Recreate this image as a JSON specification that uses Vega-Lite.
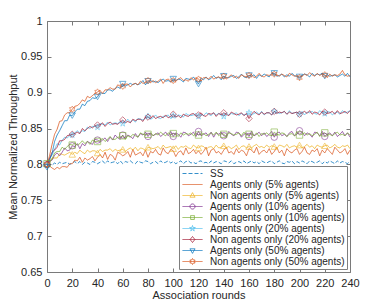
{
"$schema":"https://vega.github.io/schema/vega-lite/v6.json",
"width":303,"height":251,
"autosize":{"type":"none"},
"padding":{"left":47,"top":21,"right":16,"bottom":35},
"background":"white",
"data":{"values":[
{"x":0,"ss":0.800,"a5":0.800,"n5":0.801,"a10":0.800,"n10":0.801,"a20":0.799,"n20":0.800,"a50":0.796,"n50":0.800},
{"x":2,"ss":0.799,"a5":0.798,"n5":0.803,"a10":0.804,"n10":0.805,"a20":0.809,"n20":0.808,"a50":0.806,"n50":0.812},
{"x":4,"ss":0.799,"a5":0.795,"n5":0.809,"a10":0.806,"n10":0.807,"a20":0.813,"n20":0.817,"a50":0.815,"n50":0.828},
{"x":6,"ss":0.802,"a5":0.793,"n5":0.809,"a10":0.813,"n10":0.816,"a20":0.821,"n20":0.820,"a50":0.832,"n50":0.842},
{"x":8,"ss":0.800,"a5":0.796,"n5":0.809,"a10":0.816,"n10":0.818,"a20":0.829,"n20":0.824,"a50":0.841,"n50":0.849},
{"x":10,"ss":0.803,"a5":0.794,"n5":0.815,"a10":0.812,"n10":0.818,"a20":0.827,"n20":0.833,"a50":0.847,"n50":0.860},
{"x":12,"ss":0.801,"a5":0.797,"n5":0.814,"a10":0.817,"n10":0.824,"a20":0.834,"n20":0.833,"a50":0.854,"n50":0.861},
{"x":14,"ss":0.802,"a5":0.797,"n5":0.813,"a10":0.823,"n10":0.821,"a20":0.838,"n20":0.835,"a50":0.861,"n50":0.869},
{"x":16,"ss":0.803,"a5":0.796,"n5":0.815,"a10":0.819,"n10":0.825,"a20":0.837,"n20":0.840,"a50":0.861,"n50":0.872},
{"x":18,"ss":0.800,"a5":0.801,"n5":0.817,"a10":0.820,"n10":0.828,"a20":0.840,"n20":0.841,"a50":0.869,"n50":0.872},
{"x":20,"ss":0.802,"a5":0.801,"n5":0.814,"a10":0.826,"n10":0.827,"a20":0.841,"n20":0.842,"a50":0.868,"n50":0.877},
{"x":22,"ss":0.804,"a5":0.806,"n5":0.817,"a10":0.825,"n10":0.830,"a20":0.844,"n20":0.843,"a50":0.873,"n50":0.881},
{"x":24,"ss":0.801,"a5":0.805,"n5":0.815,"a10":0.829,"n10":0.827,"a20":0.847,"n20":0.845,"a50":0.877,"n50":0.882},
{"x":26,"ss":0.804,"a5":0.810,"n5":0.820,"a10":0.822,"n10":0.829,"a20":0.844,"n20":0.843,"a50":0.877,"n50":0.885},
{"x":28,"ss":0.800,"a5":0.803,"n5":0.817,"a10":0.829,"n10":0.833,"a20":0.847,"n20":0.850,"a50":0.884,"n50":0.890},
{"x":30,"ss":0.803,"a5":0.809,"n5":0.815,"a10":0.826,"n10":0.829,"a20":0.846,"n20":0.847,"a50":0.882,"n50":0.888},
{"x":32,"ss":0.802,"a5":0.806,"n5":0.820,"a10":0.832,"n10":0.832,"a20":0.852,"n20":0.850,"a50":0.888,"n50":0.895},
{"x":34,"ss":0.800,"a5":0.808,"n5":0.817,"a10":0.830,"n10":0.828,"a20":0.850,"n20":0.853,"a50":0.889,"n50":0.893},
{"x":36,"ss":0.804,"a5":0.811,"n5":0.819,"a10":0.828,"n10":0.834,"a20":0.853,"n20":0.851,"a50":0.893,"n50":0.896},
{"x":38,"ss":0.803,"a5":0.805,"n5":0.819,"a10":0.835,"n10":0.832,"a20":0.853,"n20":0.854,"a50":0.892,"n50":0.899},
{"x":40,"ss":0.801,"a5":0.810,"n5":0.816,"a10":0.834,"n10":0.832,"a20":0.852,"n20":0.855,"a50":0.894,"n50":0.901},
{"x":42,"ss":0.803,"a5":0.814,"n5":0.821,"a10":0.831,"n10":0.834,"a20":0.857,"n20":0.855,"a50":0.900,"n50":0.903},
{"x":44,"ss":0.805,"a5":0.809,"n5":0.818,"a10":0.834,"n10":0.836,"a20":0.856,"n20":0.858,"a50":0.899,"n50":0.899},
{"x":46,"ss":0.801,"a5":0.817,"n5":0.820,"a10":0.837,"n10":0.832,"a20":0.855,"n20":0.853,"a50":0.899,"n50":0.904},
{"x":48,"ss":0.805,"a5":0.807,"n5":0.820,"a10":0.832,"n10":0.835,"a20":0.859,"n20":0.857,"a50":0.904,"n50":0.904},
{"x":50,"ss":0.802,"a5":0.814,"n5":0.822,"a10":0.838,"n10":0.839,"a20":0.855,"n20":0.859,"a50":0.904,"n50":0.907},
{"x":52,"ss":0.803,"a5":0.812,"n5":0.818,"a10":0.834,"n10":0.835,"a20":0.857,"n20":0.856,"a50":0.902,"n50":0.905},
{"x":54,"ss":0.804,"a5":0.806,"n5":0.821,"a10":0.841,"n10":0.835,"a20":0.858,"n20":0.857,"a50":0.906,"n50":0.905},
{"x":56,"ss":0.801,"a5":0.817,"n5":0.819,"a10":0.837,"n10":0.838,"a20":0.857,"n20":0.856,"a50":0.908,"n50":0.911},
{"x":58,"ss":0.805,"a5":0.815,"n5":0.820,"a10":0.835,"n10":0.838,"a20":0.860,"n20":0.859,"a50":0.906,"n50":0.909},
{"x":60,"ss":0.801,"a5":0.812,"n5":0.821,"a10":0.841,"n10":0.840,"a20":0.857,"n20":0.862,"a50":0.912,"n50":0.909},
{"x":62,"ss":0.804,"a5":0.814,"n5":0.818,"a10":0.836,"n10":0.835,"a20":0.859,"n20":0.858,"a50":0.909,"n50":0.912},
{"x":64,"ss":0.803,"a5":0.818,"n5":0.821,"a10":0.841,"n10":0.840,"a20":0.863,"n20":0.860,"a50":0.911,"n50":0.912},
{"x":66,"ss":0.805,"a5":0.810,"n5":0.823,"a10":0.839,"n10":0.838,"a20":0.859,"n20":0.858,"a50":0.913,"n50":0.908},
{"x":68,"ss":0.802,"a5":0.821,"n5":0.820,"a10":0.836,"n10":0.842,"a20":0.862,"n20":0.863,"a50":0.911,"n50":0.912},
{"x":70,"ss":0.801,"a5":0.813,"n5":0.824,"a10":0.843,"n10":0.840,"a20":0.859,"n20":0.861,"a50":0.913,"n50":0.913},
{"x":72,"ss":0.805,"a5":0.815,"n5":0.819,"a10":0.838,"n10":0.838,"a20":0.864,"n20":0.863,"a50":0.911,"n50":0.911},
{"x":74,"ss":0.803,"a5":0.817,"n5":0.823,"a10":0.843,"n10":0.844,"a20":0.863,"n20":0.863,"a50":0.913,"n50":0.916},
{"x":76,"ss":0.802,"a5":0.812,"n5":0.822,"a10":0.841,"n10":0.842,"a20":0.862,"n20":0.860,"a50":0.917,"n50":0.913},
{"x":78,"ss":0.805,"a5":0.820,"n5":0.819,"a10":0.845,"n10":0.841,"a20":0.865,"n20":0.866,"a50":0.911,"n50":0.914},
{"x":80,"ss":0.804,"a5":0.810,"n5":0.824,"a10":0.839,"n10":0.842,"a20":0.867,"n20":0.866,"a50":0.916,"n50":0.917},
{"x":82,"ss":0.801,"a5":0.818,"n5":0.823,"a10":0.844,"n10":0.844,"a20":0.863,"n20":0.864,"a50":0.917,"n50":0.914},
{"x":84,"ss":0.803,"a5":0.816,"n5":0.822,"a10":0.840,"n10":0.840,"a20":0.865,"n20":0.868,"a50":0.915,"n50":0.917},
{"x":86,"ss":0.804,"a5":0.821,"n5":0.823,"a10":0.842,"n10":0.843,"a20":0.869,"n20":0.864,"a50":0.916,"n50":0.914},
{"x":88,"ss":0.801,"a5":0.815,"n5":0.825,"a10":0.844,"n10":0.841,"a20":0.865,"n20":0.866,"a50":0.914,"n50":0.916},
{"x":90,"ss":0.805,"a5":0.813,"n5":0.821,"a10":0.839,"n10":0.845,"a20":0.864,"n20":0.867,"a50":0.917,"n50":0.919},
{"x":92,"ss":0.802,"a5":0.823,"n5":0.827,"a10":0.842,"n10":0.842,"a20":0.867,"n20":0.865,"a50":0.919,"n50":0.913},
{"x":94,"ss":0.803,"a5":0.817,"n5":0.823,"a10":0.845,"n10":0.840,"a20":0.867,"n20":0.869,"a50":0.916,"n50":0.918},
{"x":96,"ss":0.805,"a5":0.815,"n5":0.824,"a10":0.840,"n10":0.844,"a20":0.869,"n20":0.865,"a50":0.917,"n50":0.919},
{"x":98,"ss":0.802,"a5":0.821,"n5":0.825,"a10":0.846,"n10":0.841,"a20":0.864,"n20":0.867,"a50":0.915,"n50":0.916},
{"x":100,"ss":0.804,"a5":0.819,"n5":0.822,"a10":0.839,"n10":0.843,"a20":0.868,"n20":0.870,"a50":0.919,"n50":0.917},
{"x":102,"ss":0.801,"a5":0.811,"n5":0.826,"a10":0.844,"n10":0.842,"a20":0.866,"n20":0.866,"a50":0.917,"n50":0.916},
{"x":104,"ss":0.803,"a5":0.817,"n5":0.821,"a10":0.842,"n10":0.839,"a20":0.869,"n20":0.868,"a50":0.919,"n50":0.919},
{"x":106,"ss":0.805,"a5":0.819,"n5":0.825,"a10":0.838,"n10":0.844,"a20":0.868,"n20":0.865,"a50":0.918,"n50":0.921},
{"x":108,"ss":0.801,"a5":0.813,"n5":0.824,"a10":0.845,"n10":0.841,"a20":0.866,"n20":0.870,"a50":0.915,"n50":0.917},
{"x":110,"ss":0.804,"a5":0.823,"n5":0.826,"a10":0.844,"n10":0.843,"a20":0.871,"n20":0.868,"a50":0.920,"n50":0.918},
{"x":112,"ss":0.805,"a5":0.815,"n5":0.823,"a10":0.840,"n10":0.842,"a20":0.869,"n20":0.867,"a50":0.919,"n50":0.916},
{"x":114,"ss":0.802,"a5":0.817,"n5":0.822,"a10":0.842,"n10":0.844,"a20":0.868,"n20":0.870,"a50":0.918,"n50":0.921},
{"x":116,"ss":0.803,"a5":0.821,"n5":0.827,"a10":0.845,"n10":0.840,"a20":0.869,"n20":0.871,"a50":0.922,"n50":0.918},
{"x":118,"ss":0.801,"a5":0.815,"n5":0.824,"a10":0.839,"n10":0.843,"a20":0.871,"n20":0.867,"a50":0.917,"n50":0.920},
{"x":120,"ss":0.804,"a5":0.819,"n5":0.823,"a10":0.846,"n10":0.841,"a20":0.867,"n20":0.869,"a50":0.912,"n50":0.919},
{"x":122,"ss":0.805,"a5":0.814,"n5":0.826,"a10":0.840,"n10":0.842,"a20":0.870,"n20":0.872,"a50":0.920,"n50":0.916},
{"x":124,"ss":0.802,"a5":0.818,"n5":0.825,"a10":0.842,"n10":0.843,"a20":0.868,"n20":0.868,"a50":0.918,"n50":0.921},
{"x":126,"ss":0.803,"a5":0.824,"n5":0.821,"a10":0.844,"n10":0.840,"a20":0.872,"n20":0.867,"a50":0.922,"n50":0.921},
{"x":128,"ss":0.801,"a5":0.812,"n5":0.824,"a10":0.839,"n10":0.842,"a20":0.870,"n20":0.871,"a50":0.918,"n50":0.919},
{"x":130,"ss":0.805,"a5":0.820,"n5":0.825,"a10":0.845,"n10":0.844,"a20":0.868,"n20":0.870,"a50":0.920,"n50":0.923},
{"x":132,"ss":0.802,"a5":0.822,"n5":0.822,"a10":0.838,"n10":0.841,"a20":0.872,"n20":0.872,"a50":0.924,"n50":0.919},
{"x":134,"ss":0.804,"a5":0.816,"n5":0.827,"a10":0.844,"n10":0.845,"a20":0.869,"n20":0.867,"a50":0.920,"n50":0.921},
{"x":136,"ss":0.803,"a5":0.818,"n5":0.823,"a10":0.842,"n10":0.840,"a20":0.871,"n20":0.871,"a50":0.922,"n50":0.922},
{"x":138,"ss":0.801,"a5":0.814,"n5":0.824,"a10":0.845,"n10":0.843,"a20":0.870,"n20":0.869,"a50":0.918,"n50":0.920},
{"x":140,"ss":0.805,"a5":0.820,"n5":0.826,"a10":0.840,"n10":0.842,"a20":0.867,"n20":0.872,"a50":0.923,"n50":0.923},
{"x":142,"ss":0.804,"a5":0.824,"n5":0.823,"a10":0.839,"n10":0.839,"a20":0.872,"n20":0.870,"a50":0.921,"n50":0.919},
{"x":144,"ss":0.802,"a5":0.816,"n5":0.825,"a10":0.846,"n10":0.844,"a20":0.869,"n20":0.868,"a50":0.921,"n50":0.922},
{"x":146,"ss":0.805,"a5":0.818,"n5":0.822,"a10":0.842,"n10":0.843,"a20":0.871,"n20":0.873,"a50":0.923,"n50":0.925},
{"x":148,"ss":0.801,"a5":0.814,"n5":0.824,"a10":0.840,"n10":0.841,"a20":0.870,"n20":0.871,"a50":0.924,"n50":0.921},
{"x":150,"ss":0.803,"a5":0.822,"n5":0.827,"a10":0.845,"n10":0.842,"a20":0.872,"n20":0.869,"a50":0.920,"n50":0.923},
{"x":152,"ss":0.804,"a5":0.816,"n5":0.821,"a10":0.844,"n10":0.844,"a20":0.868,"n20":0.870,"a50":0.922,"n50":0.920},
{"x":154,"ss":0.802,"a5":0.820,"n5":0.825,"a10":0.838,"n10":0.840,"a20":0.871,"n20":0.872,"a50":0.926,"n50":0.925},
{"x":156,"ss":0.805,"a5":0.818,"n5":0.826,"a10":0.842,"n10":0.845,"a20":0.869,"n20":0.868,"a50":0.922,"n50":0.923},
{"x":158,"ss":0.801,"a5":0.812,"n5":0.823,"a10":0.844,"n10":0.841,"a20":0.870,"n20":0.871,"a50":0.921,"n50":0.922},
{"x":160,"ss":0.803,"a5":0.822,"n5":0.825,"a10":0.839,"n10":0.842,"a20":0.872,"n20":0.864,"a50":0.924,"n50":0.924},
{"x":162,"ss":0.805,"a5":0.820,"n5":0.823,"a10":0.846,"n10":0.843,"a20":0.869,"n20":0.870,"a50":0.923,"n50":0.925},
{"x":164,"ss":0.802,"a5":0.816,"n5":0.826,"a10":0.840,"n10":0.840,"a20":0.871,"n20":0.874,"a50":0.925,"n50":0.921},
{"x":166,"ss":0.804,"a5":0.824,"n5":0.828,"a10":0.842,"n10":0.844,"a20":0.873,"n20":0.871,"a50":0.920,"n50":0.923},
{"x":168,"ss":0.801,"a5":0.814,"n5":0.824,"a10":0.845,"n10":0.839,"a20":0.870,"n20":0.869,"a50":0.925,"n50":0.927},
{"x":170,"ss":0.805,"a5":0.818,"n5":0.825,"a10":0.840,"n10":0.843,"a20":0.874,"n20":0.873,"a50":0.923,"n50":0.923},
{"x":172,"ss":0.803,"a5":0.820,"n5":0.823,"a10":0.844,"n10":0.842,"a20":0.869,"n20":0.870,"a50":0.926,"n50":0.922},
{"x":174,"ss":0.802,"a5":0.816,"n5":0.827,"a10":0.839,"n10":0.844,"a20":0.872,"n20":0.872,"a50":0.924,"n50":0.925},
{"x":176,"ss":0.804,"a5":0.822,"n5":0.824,"a10":0.842,"n10":0.841,"a20":0.872,"n20":0.872,"a50":0.922,"n50":0.924},
{"x":178,"ss":0.805,"a5":0.814,"n5":0.826,"a10":0.846,"n10":0.840,"a20":0.869,"n20":0.869,"a50":0.927,"n50":0.926},
{"x":180,"ss":0.801,"a5":0.818,"n5":0.825,"a10":0.838,"n10":0.845,"a20":0.874,"n20":0.874,"a50":0.927,"n50":0.926},
{"x":182,"ss":0.803,"a5":0.824,"n5":0.822,"a10":0.844,"n10":0.842,"a20":0.873,"n20":0.871,"a50":0.923,"n50":0.925},
{"x":184,"ss":0.805,"a5":0.816,"n5":0.827,"a10":0.845,"n10":0.841,"a20":0.871,"n20":0.873,"a50":0.924,"n50":0.923},
{"x":186,"ss":0.802,"a5":0.820,"n5":0.826,"a10":0.840,"n10":0.844,"a20":0.872,"n20":0.872,"a50":0.926,"n50":0.926},
{"x":188,"ss":0.801,"a5":0.812,"n5":0.824,"a10":0.842,"n10":0.843,"a20":0.874,"n20":0.874,"a50":0.922,"n50":0.924},
{"x":190,"ss":0.804,"a5":0.822,"n5":0.828,"a10":0.839,"n10":0.839,"a20":0.870,"n20":0.870,"a50":0.925,"n50":0.922},
{"x":192,"ss":0.803,"a5":0.818,"n5":0.823,"a10":0.844,"n10":0.842,"a20":0.875,"n20":0.873,"a50":0.923,"n50":0.927},
{"x":194,"ss":0.805,"a5":0.816,"n5":0.825,"a10":0.846,"n10":0.843,"a20":0.871,"n20":0.871,"a50":0.927,"n50":0.925},
{"x":196,"ss":0.801,"a5":0.820,"n5":0.826,"a10":0.840,"n10":0.840,"a20":0.872,"n20":0.872,"a50":0.924,"n50":0.923},
{"x":198,"ss":0.804,"a5":0.822,"n5":0.824,"a10":0.842,"n10":0.845,"a20":0.873,"n20":0.873,"a50":0.922,"n50":0.924},
{"x":200,"ss":0.802,"a5":0.814,"n5":0.827,"a10":0.847,"n10":0.841,"a20":0.870,"n20":0.870,"a50":0.922,"n50":0.921},
{"x":202,"ss":0.805,"a5":0.818,"n5":0.823,"a10":0.845,"n10":0.842,"a20":0.874,"n20":0.872,"a50":0.924,"n50":0.923},
{"x":204,"ss":0.803,"a5":0.824,"n5":0.825,"a10":0.840,"n10":0.844,"a20":0.869,"n20":0.874,"a50":0.926,"n50":0.926},
{"x":206,"ss":0.801,"a5":0.816,"n5":0.828,"a10":0.844,"n10":0.841,"a20":0.873,"n20":0.871,"a50":0.925,"n50":0.924},
{"x":208,"ss":0.805,"a5":0.814,"n5":0.824,"a10":0.842,"n10":0.843,"a20":0.872,"n20":0.875,"a50":0.922,"n50":0.928},
{"x":210,"ss":0.804,"a5":0.820,"n5":0.826,"a10":0.838,"n10":0.840,"a20":0.874,"n20":0.870,"a50":0.927,"n50":0.925},
{"x":212,"ss":0.802,"a5":0.818,"n5":0.822,"a10":0.845,"n10":0.842,"a20":0.871,"n20":0.873,"a50":0.924,"n50":0.923},
{"x":214,"ss":0.803,"a5":0.822,"n5":0.827,"a10":0.844,"n10":0.845,"a20":0.870,"n20":0.872,"a50":0.926,"n50":0.927},
{"x":216,"ss":0.805,"a5":0.812,"n5":0.825,"a10":0.840,"n10":0.839,"a20":0.875,"n20":0.869,"a50":0.925,"n50":0.924},
{"x":218,"ss":0.801,"a5":0.820,"n5":0.824,"a10":0.846,"n10":0.843,"a20":0.872,"n20":0.874,"a50":0.927,"n50":0.926},
{"x":220,"ss":0.804,"a5":0.816,"n5":0.826,"a10":0.839,"n10":0.844,"a20":0.871,"n20":0.873,"a50":0.923,"n50":0.925},
{"x":222,"ss":0.802,"a5":0.822,"n5":0.827,"a10":0.842,"n10":0.841,"a20":0.874,"n20":0.871,"a50":0.925,"n50":0.921},
{"x":224,"ss":0.805,"a5":0.818,"n5":0.823,"a10":0.844,"n10":0.842,"a20":0.873,"n20":0.872,"a50":0.923,"n50":0.926},
{"x":226,"ss":0.803,"a5":0.814,"n5":0.825,"a10":0.840,"n10":0.840,"a20":0.869,"n20":0.874,"a50":0.924,"n50":0.923},
{"x":228,"ss":0.801,"a5":0.824,"n5":0.828,"a10":0.845,"n10":0.843,"a20":0.872,"n20":0.870,"a50":0.925,"n50":0.925},
{"x":230,"ss":0.805,"a5":0.820,"n5":0.824,"a10":0.839,"n10":0.845,"a20":0.873,"n20":0.875,"a50":0.922,"n50":0.924},
{"x":232,"ss":0.802,"a5":0.816,"n5":0.823,"a10":0.842,"n10":0.841,"a20":0.870,"n20":0.871,"a50":0.924,"n50":0.926},
{"x":234,"ss":0.804,"a5":0.818,"n5":0.826,"a10":0.846,"n10":0.842,"a20":0.875,"n20":0.872,"a50":0.926,"n50":0.931},
{"x":236,"ss":0.803,"a5":0.822,"n5":0.825,"a10":0.840,"n10":0.840,"a20":0.872,"n20":0.874,"a50":0.923,"n50":0.925},
{"x":238,"ss":0.801,"a5":0.814,"n5":0.827,"a10":0.844,"n10":0.844,"a20":0.873,"n20":0.871,"a50":0.927,"n50":0.923},
{"x":240,"ss":0.805,"a5":0.820,"n5":0.822,"a10":0.838,"n10":0.841,"a20":0.875,"n20":0.875,"a50":0.922,"n50":0.924}
]},
"transform":[{"fold":["ss","a5","n5","a10","n10","a20","n20","a50","n50"],"as":["series","y"]}],
"layer":[
{"mark":{"type":"line","strokeWidth":0.8},
 "encoding":{
  "x":{"field":"x","type":"quantitative","scale":{"domain":[0,240],"nice":false},"axis":{"title":"Association rounds","values":[0,20,40,60,80,100,120,140,160,180,200,220,240],"format":"d","titlePadding":1}},
  "y":{"field":"y","type":"quantitative","scale":{"domain":[0.65,1],"nice":false,"zero":false},"axis":{"title":"Mean Normalized Throughput","values":[0.65,0.7,0.75,0.8,0.85,0.9,0.95,1],"format":"~g","titlePadding":2}},
  "color":{"field":"series","type":"nominal","scale":{"domain":["ss","a5","n5","a10","n10","a20","n20","a50","n50"],"range":["#0072BD","#D95319","#EDB120","#7E2F8E","#77AC30","#4DBEEE","#A2142F","#0072BD","#D95319"]},
   "legend":{"title":null,"orient":"bottom-right","offset":3,"padding":2,"strokeColor":"#7f7f7f","fillColor":"#ffffff","labelFont":"Liberation Sans","labelFontSize":10,"labelColor":"#262626","labelLimit":250,"symbolSize":100,"symbolOffset":6,"labelOffset":12,"rowPadding":0,"symbolStrokeWidth":0.8,
    "labelExpr":"{'ss':'SS','a5':'Agents only (5% agents)','n5':'Non agents only (5% agents)','a10':'Agents only (10% agents)','n10':'Non agents only (10% agents)','a20':'Agents only (20% agents)','n20':'Non agents only (20% agents)','a50':'Agents only (50% agents)','n50':'Non agents only (50% agents)'}[datum.value]",
    "encode":{"symbols":{"update":{
      "shape":{"signal":"{'ss':'M-2,0L2,0','a5':'M-2,0L2,0','n5':'M-2,0L2,0M0,-0.57L0.51,0.34L-0.51,0.34Z','a10':'M-2,0L2,0M0.51,0A0.51,0.51,0,1,1,-0.51,0A0.51,0.51,0,1,1,0.51,0Z','n10':'M-2,0L2,0M-0.38,-0.38L0.38,-0.38L0.38,0.38L-0.38,0.38Z','a20':'M-2,0L2,0M0,-0.6L0.135,-0.185L0.57,-0.185L0.218,0.07L0.352,0.485L0,0.229L-0.352,0.485L-0.218,0.07L-0.57,-0.185L-0.135,-0.185Z','n20':'M-2,0L2,0M0,-0.6L0.48,0L0,0.6L-0.48,0Z','a50':'M-2,0L2,0M0,0.57L0.51,-0.34L-0.51,-0.34Z','n50':'M-2,0L2,0M0,-0.6L0.173,-0.3L0.519,-0.3L0.347,0L0.519,0.3L0.173,0.3L0,0.6L-0.173,0.3L-0.519,0.3L-0.347,0L-0.519,-0.3L-0.173,-0.3Z'}[datum.value]"},
      "fill":{"value":"transparent"},
      "stroke":{"scale":"color","field":"value"},
      "strokeDash":{"signal":"datum.value === 'ss' ? [4,2] : [1,0]"}
    }}}
   }},
  "strokeDash":{"field":"series","type":"nominal","scale":{"domain":["ss","a5","n5","a10","n10","a20","n20","a50","n50"],"range":[[4,2],[1,0],[1,0],[1,0],[1,0],[1,0],[1,0],[1,0],[1,0]]},"legend":null}
 }},
{"transform":[{"filter":"datum.x % 20 === 0 && datum.x <= 220 && datum.series !== 'ss' && datum.series !== 'a5'"}],
 "mark":{"type":"point","filled":false,"strokeWidth":0.8},
 "encoding":{
  "x":{"field":"x","type":"quantitative","axis":{"orient":"top","labels":false,"title":null,"values":[0,20,40,60,80,100,120,140,160,180,200,220,240]}},
  "y":{"field":"y","type":"quantitative","axis":{"orient":"right","labels":false,"title":null,"values":[0.65,0.7,0.75,0.8,0.85,0.9,0.95,1]}},
  "color":{"field":"series","type":"nominal"},
  "shape":{"field":"series","type":"nominal","scale":{"domain":["n5","a10","n10","a20","n20","a50","n50"],"range":["triangle-up","circle","square","M0,-1L0.225,-0.309L0.951,-0.309L0.363,0.118L0.588,0.809L0,0.382L-0.588,0.809L-0.363,0.118L-0.951,-0.309L-0.225,-0.309Z","diamond","triangle-down","M0,-1L0.289,-0.5L0.866,-0.5L0.577,0L0.866,0.5L0.289,0.5L0,1L-0.289,0.5L-0.866,0.5L-0.577,0L-0.866,-0.5L-0.289,-0.5Z"]},"legend":null},
  "size":{"field":"series","type":"ordinal","scale":{"domain":["n5","a10","n10","a20","n20","a50","n50"],"range":[42,40,28,64,48,42,64]},"legend":null}
 }}
],
"resolve":{"axis":{"x":"independent","y":"independent"}},
"config":{
 "view":{"stroke":null},
 "axis":{"grid":false,"domainColor":"#7a7a7a","tickColor":"#7a7a7a","domainWidth":1,"tickWidth":1,"tickSize":-4,"labelPadding":9,"labelOverlap":false,"labelFlush":false,"labelFont":"Liberation Sans","labelFontSize":11,"labelColor":"#262626","titleFont":"Liberation Sans","titleFontSize":11,"titleFontWeight":"normal","titleColor":"#262626"}
}
}
